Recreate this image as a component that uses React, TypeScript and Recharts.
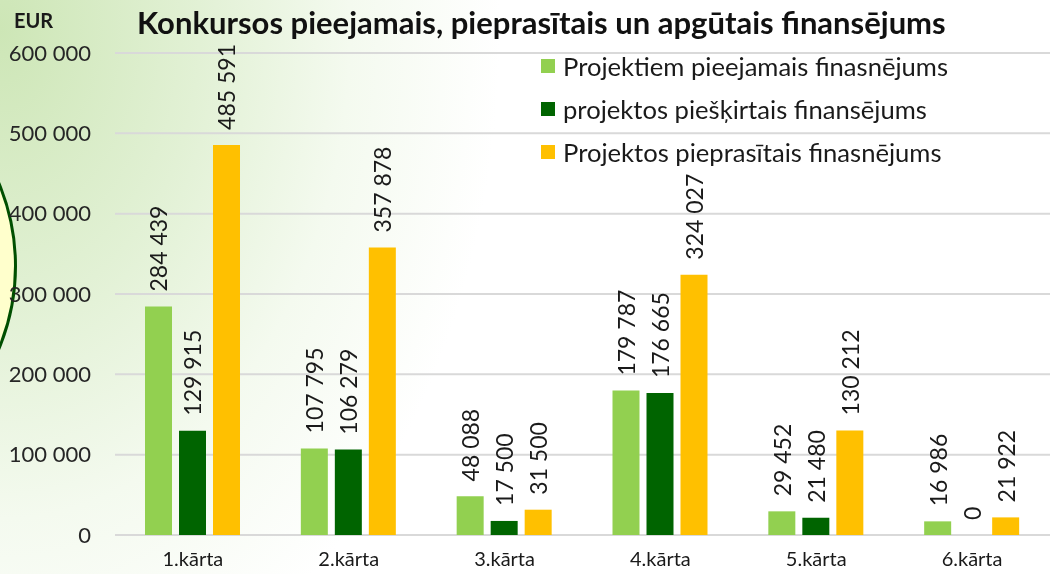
import { Bar, BarChart, CartesianGrid, LabelList, XAxis, YAxis } from "recharts";

const categories = ["1.kārta", "2.kārta", "3.kārta", "4.kārta", "5.kārta", "6.kārta"];
const available = [284439, 107795, 48088, 179787, 29452, 16986];
const granted = [129915, 106279, 17500, 176665, 21480, 0];
const requested = [485591, 357878, 31500, 324027, 130212, 21922];
const yTicks = [0, 100000, 200000, 300000, 400000, 500000, 600000];

const seriesInfo = [
  { key: "available", name: "Projektiem pieejamais finasnējums", color: "#92d050" },
  { key: "granted", name: "projektos piešķirtais finansējums", color: "#006400" },
  { key: "requested", name: "Projektos pieprasītais finasnējums", color: "#ffc000" },
];

const data = categories.map((c, i) => ({
  name: c,
  available: available[i],
  granted: granted[i],
  requested: requested[i],
}));

const FONT = "Lato, 'Open Sans', sans-serif";

const fmt = (v: number) => String(v).replace(/\B(?=(\d{3})+(?!\d))/g, " ");

const renderLabel = (props: any) => {
  const { x, y, width, height, value } = props;
  const cx = Number(x) + Number(width) / 2;
  const ty = Math.min(Number(y), Number(y) + Number(height)) - 15;
  return (
    <text
      x={cx}
      y={ty}
      transform={`rotate(-90 ${cx} ${ty})`}
      textAnchor="start"
      dominantBaseline="central"
      fontSize={23}
      fontFamily={FONT}
      fill="#1a1a1a"
    >
      {fmt(value)}
    </text>
  );
};

export default function App() {
  return (
    <div
      style={{
        position: "fixed",
        left: 0,
        top: 0,
        width: 1050,
        height: 574,
        overflow: "hidden",
        background:
          "radial-gradient(ellipse 500px 700px at 0% 5%, #cde6b6 0%, #e2f1d5 40%, #f4faef 70%, #ffffff 100%)",
      }}
    >
      <div
        style={{
          position: "absolute",
          left: -415,
          top: 50,
          width: 432,
          height: 432,
          borderRadius: "50%",
          border: "3px solid #004f00",
          background: "#ffffcc",
          boxSizing: "border-box",
        }}
      />
      <div
        style={{
          position: "absolute",
          left: 14,
          top: 8,
          fontFamily: FONT,
          fontWeight: 700,
          fontSize: 20,
          color: "#1a1a1a",
        }}
      >
        EUR
      </div>
      <div
        style={{
          position: "absolute",
          left: 137,
          top: 3,
          fontFamily: FONT,
          fontWeight: 700,
          fontSize: 31,
          color: "#111",
          whiteSpace: "nowrap",
        }}
      >
        Konkursos pieejamais, pieprasītais un apgūtais finansējums
      </div>
      <div style={{ position: "absolute", left: 0, top: 0 }}>
        <BarChart
          width={1050}
          height={574}
          data={data}
          margin={{ top: 53, right: 0, bottom: 0, left: 0 }}
          barSize={27}
          barGap={7}
        >
          <CartesianGrid vertical={false} stroke="#d9d9d9" strokeWidth={2} />
          <XAxis
            dataKey="name"
            axisLine={false}
            tickLine={false}
            tickSize={0}
            tickMargin={17}
            height={39}
            tick={{ fontSize: 20, fontFamily: FONT, fill: "#1a1a1a" }}
          />
          <YAxis
            width={115}
            domain={[0, 600000]}
            ticks={yTicks}
            axisLine={false}
            tickLine={false}
            tickSize={0}
            tickMargin={24}
            tickFormatter={fmt}
            tick={{ fontSize: 22, fontFamily: FONT, fill: "#262626" }}
          />
          {seriesInfo.map((s) => (
            <Bar
              key={s.key}
              dataKey={s.key}
              name={s.name}
              fill={s.color}
              minPointSize={(v: number) => (v === 0 ? 0.01 : 0)}
              isAnimationActive={false}
            >
              <LabelList dataKey={s.key} content={renderLabel} />
            </Bar>
          ))}
        </BarChart>
      </div>
      <div
        style={{
          position: "absolute",
          left: 541,
          top: 44,
          fontFamily: FONT,
          fontSize: 25.6,
          color: "#1a1a1a",
          whiteSpace: "nowrap",
        }}
      >
        {seriesInfo.map((s) => (
          <div key={s.key} style={{ display: "flex", alignItems: "center", height: 43 }}>
            <span
              style={{ width: 14, height: 14, background: s.color, marginRight: 8, display: "inline-block" }}
            />
            <span>{s.name}</span>
          </div>
        ))}
      </div>
    </div>
  );
}
